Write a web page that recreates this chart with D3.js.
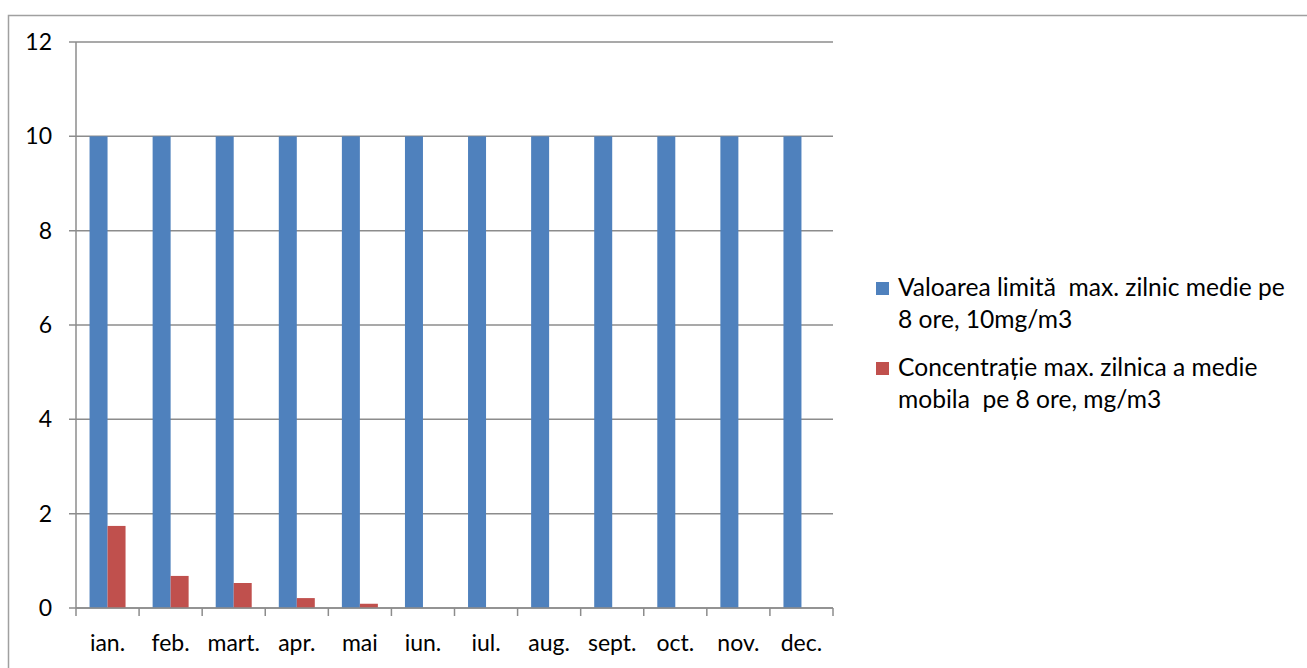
<!DOCTYPE html>
<html>
<head>
<meta charset="utf-8">
<script src="https://cdn.jsdelivr.net/npm/d3@7"></script>
<style>
  body { margin: 0; background: #fff; }
  text { font-family: Lato, "Open Sans", sans-serif; fill: #000; white-space: pre; }
</style>
</head>
<body>
<div id="chart"></div>
<script>
// data
const months = ['ian.', 'feb.', 'mart.', 'apr.', 'mai', 'iun.', 'iul.', 'aug.', 'sept.', 'oct.', 'nov.', 'dec.'];
const limitValues = [10, 10, 10, 10, 10, 10, 10, 10, 10, 10, 10, 10];
const concValues = [1.74, 0.68, 0.53, 0.21, 0.09, 0, 0, 0, 0, 0, 0, 0];
const yTicks = [0, 2, 4, 6, 8, 10, 12];
const seriesNames = [
  ['Valoarea limită  max. zilnic medie pe', '8 ore, 10mg/m3'],
  ['Concentrație max. zilnica a medie', 'mobila  pe 8 ore, mg/m3']
];
const seriesColors = ['#4F81BD', '#C0504D'];

var width = 1307
var height = 668
const plot = { left: 76, right: 833, top: 42, bottom: 608 };
const FONT = '23px';

var svg = d3.select('#chart')
  .append('svg')
  .attr('width', width)
  .attr('height', height);

// outer chart border (right and bottom fall outside the picture)
svg.append('path')
  .attr('d', 'M8.5,' + height + 'V15.5H' + width)
  .attr('fill', 'none')
  .attr('stroke', '#a0a0a0')
  .attr('stroke-width', 1.5);

var x = d3.scaleBand()
  .domain(months)
  .range([plot.left, plot.right]);

var y = d3.scaleLinear()
  .domain([0, 12])
  .range([plot.bottom, plot.top]);

// grid lines
svg.append('g')
  .selectAll('line')
  .data(yTicks)
  .enter()
  .append('line')
  .attr('x1', plot.left - 7)
  .attr('x2', plot.right)
  .attr('y1', d => y(d))
  .attr('y2', d => y(d))
  .attr('stroke', '#8c8c8c')
  .attr('stroke-width', 1.5);

// y axis labels
svg.append('g')
  .selectAll('text')
  .data(yTicks)
  .enter()
  .append('text')
  .attr('x', 52)
  .attr('y', d => y(d))
  .attr('dy', '0.35em')
  .attr('text-anchor', 'end')
  .style('font-size', FONT)
  .text(d => d);

// vertical axis line
svg.append('line')
  .attr('x1', plot.left).attr('x2', plot.left)
  .attr('y1', plot.top).attr('y2', plot.bottom)
  .attr('stroke', '#8c8c8c')
  .attr('stroke-width', 1.5);

// bars
const groupWidth = 36;
const inner = d3.scaleBand()
  .domain([0, 1])
  .range([(x.bandwidth() - groupWidth) / 2, (x.bandwidth() + groupWidth) / 2]);

[limitValues, concValues].forEach(function (vals, si) {
  svg.append('g')
    .selectAll('rect')
    .data(vals)
    .enter()
    .append('rect')
    .attr('x', (d, i) => x(months[i]) + inner(si))
    .attr('y', d => y(d))
    .attr('width', inner.bandwidth())
    .attr('height', d => y(0) - y(d))
    .attr('fill', seriesColors[si]);
});

// x axis line and ticks
svg.append('line')
  .attr('x1', plot.left).attr('x2', plot.right)
  .attr('y1', plot.bottom).attr('y2', plot.bottom)
  .attr('stroke', '#8c8c8c')
  .attr('stroke-width', 1.5);

const tickPos = months.map(m => x(m)).concat([plot.right]);
svg.append('g')
  .selectAll('line')
  .data(tickPos)
  .enter()
  .append('line')
  .attr('x1', d => d).attr('x2', d => d)
  .attr('y1', plot.bottom).attr('y2', plot.bottom + 8)
  .attr('stroke', '#8c8c8c')
  .attr('stroke-width', 1.5);

svg.append('g')
  .selectAll('text')
  .data(months)
  .enter()
  .append('text')
  .attr('x', d => x(d) + x.bandwidth() / 2)
  .attr('y', 651)
  .attr('text-anchor', 'middle')
  .style('font-size', FONT)
  .text(d => d);

// legend
const legendTop = [282, 362];
seriesNames.forEach(function (lines, si) {
  var g = svg.append('g');
  g.append('rect')
    .attr('x', 876)
    .attr('y', legendTop[si])
    .attr('width', 13)
    .attr('height', 13)
    .attr('fill', seriesColors[si]);
  g.selectAll('text')
    .data(lines)
    .enter()
    .append('text')
    .attr('x', 898)
    .attr('y', (d, i) => legendTop[si] + 14 + i * 32)
    .style('font-size', '24.6px')
    .text(d => d);
});
</script>
</body>
</html>
